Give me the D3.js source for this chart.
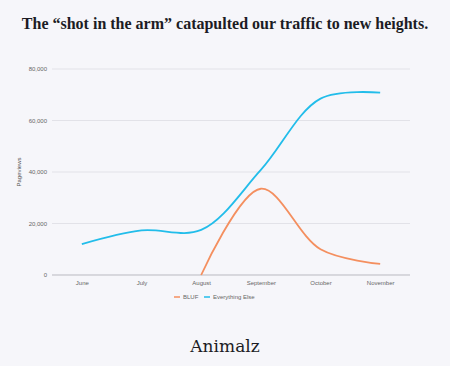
<!DOCTYPE html>
<html>
<head>
<meta charset="utf-8">
<script src="https://cdn.jsdelivr.net/npm/d3@7"></script>
<style>
  html, body { margin: 0; padding: 0; background: #f6f6fa; }
  svg { display: block; }
</style>
</head>
<body>
<div id="chart"></div>
<script>
// data
var months = ["June", "July", "August", "September", "October", "November"];
var bluf = [null, null, 0, 33500, 10000, 4300];
var everythingElse = [12000, 17300, 17500, 40800, 68500, 70800];
var yTicks = [0, 20000, 40000, 60000, 80000];
var seriesNames = ["BLUF", "Everything Else"];
var seriesColors = ["#f48f5f", "#22bdea"];

var W = 450, H = 366;
var margin = {top: 69, right: 40, bottom: 91, left: 52},
    width = W - margin.left - margin.right,
    height = H - margin.top - margin.bottom;

var svg = d3.select("#chart").append("svg")
    .attr("width", W)
    .attr("height", H);

svg.append("rect").attr("width", W).attr("height", H).attr("fill", "#f6f6fa");

// title
svg.append("text")
    .attr("x", W / 2)
    .attr("y", 29)
    .attr("text-anchor", "middle")
    .attr("font-family", "Liberation Serif, serif")
    .attr("font-weight", "bold")
    .attr("font-size", 16)
    .attr("fill", "#1c1c24")
    .text("The \u201cshot in the arm\u201d catapulted our traffic to new heights.");

var g = svg.append("g")
    .attr("transform", "translate(" + margin.left + "," + margin.top + ")");

var x = d3.scalePoint()
    .domain(months)
    .range([0, width])
    .padding(0.5);

var y = d3.scaleLinear()
    .domain([0, 80000])
    .range([height, 0]);

// grid
g.selectAll("line.grid")
    .data(yTicks)
    .enter().append("line")
    .attr("class", "grid")
    .attr("x1", 0).attr("x2", width)
    .attr("y1", function(d) { return y(d); })
    .attr("y2", function(d) { return y(d); })
    .attr("stroke", function(d) { return d === 0 ? "#b9b9c0" : "#e2e2e8"; })
    .attr("stroke-width", 1);

// y ticks
var yAxis = g.append("g")
    .call(d3.axisLeft(y).tickValues(yTicks).tickSize(0).tickPadding(5).tickFormat(d3.format(",")));
yAxis.select(".domain").remove();
yAxis.selectAll("text")
    .attr("font-family", "Liberation Sans, Arial, sans-serif")
    .attr("font-size", 6)
    .attr("fill", "#666");

// x ticks
var xAxis = g.append("g")
    .attr("transform", "translate(0," + height + ")")
    .call(d3.axisBottom(x).tickSize(0).tickPadding(6));
xAxis.select(".domain").remove();
xAxis.selectAll("text")
    .attr("font-family", "Liberation Sans, Arial, sans-serif")
    .attr("font-size", 6)
    .attr("fill", "#666");

// y label
svg.append("text")
    .attr("transform", "translate(21," + (margin.top + height / 2) + ") rotate(-90)")
    .attr("text-anchor", "middle")
    .attr("font-family", "Liberation Sans, Arial, sans-serif")
    .attr("font-size", 6)
    .attr("fill", "#555")
    .text("Pageviews");

// lines
var line = d3.line()
    .defined(function(d) { return d[1] !== null; })
    .x(function(d) { return x(d[0]); })
    .y(function(d) { return y(d[1]); })
    .curve(d3.curveCatmullRom.alpha(0.5));

[bluf, everythingElse].forEach(function(vals, i) {
    g.append("path")
        .datum(months.map(function(m, j) { return [m, vals[j]]; }))
        .attr("fill", "none")
        .attr("stroke", seriesColors[i])
        .attr("stroke-width", 1.8)
        .attr("d", line);
});

// legend
var legend = svg.append("g").attr("transform", "translate(0,297)");
var lx = [174, 204];
seriesNames.forEach(function(name, i) {
    legend.append("line")
        .attr("x1", lx[i]).attr("x2", lx[i] + 6)
        .attr("y1", 0).attr("y2", 0)
        .attr("stroke", seriesColors[i]).attr("stroke-width", 1.5);
    legend.append("text")
        .attr("x", lx[i] + 9)
        .attr("y", 2)
        .attr("font-family", "Liberation Sans, Arial, sans-serif")
        .attr("font-size", 6)
        .attr("fill", "#666")
        .text(name);
});

// logo
svg.append("text")
    .attr("x", W / 2)
    .attr("y", 352)
    .attr("text-anchor", "middle")
    .attr("font-family", "DejaVu Serif, serif")
    .attr("font-size", 17)
    .attr("fill", "#1c1c24")
    .text("Animalz");
</script>
</body>
</html>
